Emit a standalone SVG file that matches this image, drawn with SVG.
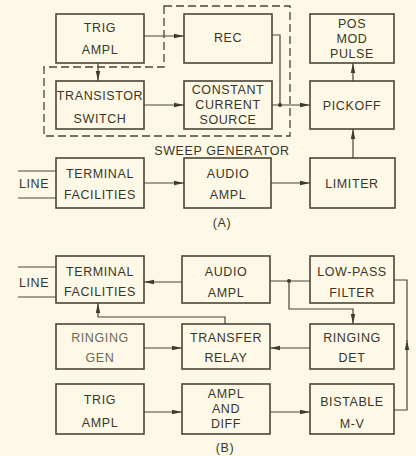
<svg xmlns="http://www.w3.org/2000/svg" width="416" height="456" viewBox="0 0 416 456">
<defs>
<marker id="ah" viewBox="0 0 10 6" refX="10" refY="3" markerWidth="10" markerHeight="6" markerUnits="userSpaceOnUse" orient="auto">
<path d="M0,0.8 L10,3 L0,5.2 Z" fill="#3f3a2c"/>
</marker>
<style>
.b{fill:none;stroke:#4a4535;stroke-width:1.6}
.c{fill:none;stroke:#4a4535;stroke-width:1.2}
.a{marker-end:url(#ah)}
.d{fill:none;stroke:#4a4535;stroke-width:1.3;stroke-dasharray:8 4}
text{font-family:"Liberation Sans",Arial,sans-serif;font-size:12.5px;fill:#3a3528;text-anchor:middle;letter-spacing:0.6px}
.g{fill:#6e6858}
</style>
</defs>
<rect width="416" height="456" fill="#fdf9e6"/>
<g id="sweep-generator">
<path class="d" d="M164,6 H290 V136 H44 V67 H164 Z"/>
<text x="222" y="155">SWEEP GENERATOR</text>
</g>
<g id="a-trig-ampl"><rect class="b" x="56" y="14" width="88" height="49"/><text x="100" y="32">TRIG</text><text x="100" y="54">AMPL</text></g>
<g id="a-rec"><rect class="b" x="184" y="14" width="88" height="49"/><text x="228" y="42">REC</text></g>
<g id="a-pos-mod-pulse"><rect class="b" x="310" y="14" width="84" height="49"/><text x="352" y="28">POS</text><text x="352" y="43">MOD</text><text x="352" y="58">PULSE</text></g>
<g id="a-transistor-switch"><rect class="b" x="56" y="81" width="88" height="48"/><text x="100" y="100">TRANSISTOR</text><text x="100" y="123">SWITCH</text></g>
<g id="a-ccs"><rect class="b" x="184" y="81" width="88" height="48"/><text x="228" y="94">CONSTANT</text><text x="228" y="109">CURRENT</text><text x="228" y="124">SOURCE</text></g>
<g id="a-pickoff"><rect class="b" x="310" y="81" width="84" height="48"/><text x="352" y="110">PICKOFF</text></g>
<g id="a-terminal"><rect class="b" x="56" y="158" width="88" height="50"/><text x="100" y="178">TERMINAL</text><text x="100" y="199">FACILITIES</text></g>
<g id="a-audio"><rect class="b" x="184" y="158" width="87" height="50"/><text x="228" y="178">AUDIO</text><text x="228" y="199">AMPL</text></g>
<g id="a-limiter"><rect class="b" x="310" y="158" width="85" height="50"/><text x="352" y="188">LIMITER</text></g>
<g id="a-line"><text x="34" y="188">LINE</text></g>
<text x="222" y="227">(A)</text>
<g id="b-terminal"><rect class="b" x="56" y="256" width="88" height="47"/><text x="100" y="276">TERMINAL</text><text x="100" y="296">FACILITIES</text></g>
<g id="b-audio"><rect class="b" x="182" y="256" width="88" height="47"/><text x="226" y="276">AUDIO</text><text x="226" y="297">AMPL</text></g>
<g id="b-lowpass"><rect class="b" x="310" y="256" width="84" height="47"/><text x="352" y="276">LOW-PASS</text><text x="352" y="297">FILTER</text></g>
<g id="b-ringing-gen"><rect class="b" x="56" y="324" width="88" height="45"/><text class="g" x="100" y="342">RINGING</text><text class="g" x="100" y="362">GEN</text></g>
<g id="b-transfer"><rect class="b" x="182" y="324" width="88" height="45"/><text x="226" y="342">TRANSFER</text><text x="226" y="362">RELAY</text></g>
<g id="b-ringing-det"><rect class="b" x="310" y="324" width="84" height="45"/><text x="352" y="342">RINGING</text><text x="352" y="362">DET</text></g>
<g id="b-trig"><rect class="b" x="56" y="384" width="88" height="50"/><text x="100" y="404">TRIG</text><text x="100" y="427">AMPL</text></g>
<g id="b-ampl-diff"><rect class="b" x="182" y="384" width="88" height="50"/><text x="226" y="398">AMPL</text><text x="226" y="413">AND</text><text x="226" y="428">DIFF</text></g>
<g id="b-bistable"><rect class="b" x="310" y="384" width="84" height="50"/><text x="352" y="406">BISTABLE</text><text x="352" y="428">M-V</text></g>
<g id="b-line"><text x="34" y="287">LINE</text></g>
<text x="225" y="452">(B)</text>
<g id="connectors">
<path class="c a" d="M144,36 H184"/>
<path class="c a" d="M98,63 V81"/>
<path class="c a" d="M144,105 H184"/>
<path class="c" d="M272,35 H280 V105"/>
<path class="c a" d="M272,105 H310"/>
<circle cx="280" cy="105" r="2" fill="#3f3a2c"/>
<path class="c a" d="M353,81 V63"/>
<path class="c a" d="M353,158 V129"/>
<path class="c" d="M18,171 H56 M18,198 H56"/>
<path class="c a" d="M144,183 H184"/>
<path class="c a" d="M271,183 H310"/>
<path class="c" d="M18,267 H56 M18,297 H56"/>
<path class="c a" d="M182,282 H144"/>
<path class="c" d="M270,281 H310"/>
<circle cx="289" cy="281" r="2" fill="#3f3a2c"/>
<path class="c a" d="M289,281 V309 H353 V324"/>
<path class="c a" d="M225,324 V317 H98 V303"/>
<path class="c a" d="M144,348 H182"/>
<path class="c a" d="M310,348 H270"/>
<path class="c a" d="M144,412 H182"/>
<path class="c a" d="M270,412 H310"/>
<path class="c a" d="M394,410 H407 V340"/>
<path class="c" d="M407,341 V280 H394"/>
</g>
</svg>
